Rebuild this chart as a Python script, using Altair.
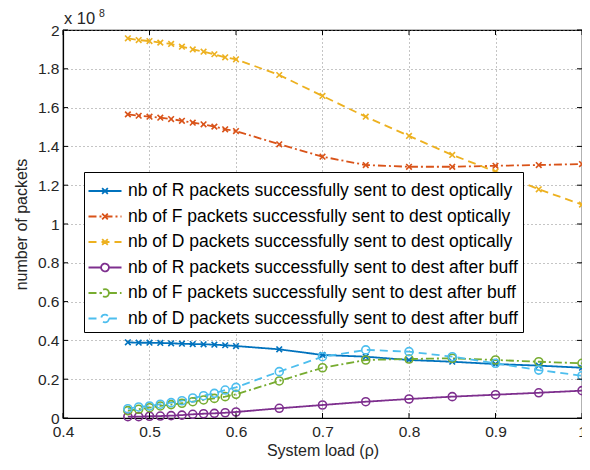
import altair as alt
import pandas as pd

# System load values (x axis)
load = [0.475, 0.4875, 0.5, 0.5125, 0.525, 0.5375, 0.55, 0.5625, 0.575, 0.5875,
        0.6, 0.65, 0.7, 0.75, 0.8, 0.85, 0.9, 0.95, 1.0]

# Number of packets, in units of 1e8
r_opt = [0.390, 0.388, 0.388, 0.387, 0.385, 0.383, 0.381, 0.380, 0.378, 0.375,
         0.371, 0.354, 0.325, 0.316, 0.299, 0.290, 0.278, 0.270, 0.259]
f_opt = [1.565, 1.558, 1.553, 1.548, 1.541, 1.532, 1.522, 1.514, 1.502, 1.488,
         1.479, 1.411, 1.347, 1.304, 1.295, 1.295, 1.300, 1.304, 1.309]
d_opt = [1.957, 1.948, 1.943, 1.935, 1.928, 1.914, 1.900, 1.888, 1.875, 1.859,
         1.849, 1.768, 1.660, 1.553, 1.454, 1.356, 1.270, 1.179, 1.100]
r_buf = [0.007, 0.007, 0.009, 0.010, 0.012, 0.015, 0.019, 0.022, 0.024, 0.027,
         0.031, 0.050, 0.067, 0.084, 0.098, 0.110, 0.120, 0.130, 0.141]
f_buf = [0.038, 0.045, 0.053, 0.062, 0.069, 0.076, 0.084, 0.093, 0.101, 0.110,
         0.122, 0.191, 0.259, 0.299, 0.304, 0.308, 0.299, 0.290, 0.282]
d_buf = [0.048, 0.057, 0.062, 0.071, 0.079, 0.089, 0.103, 0.115, 0.127, 0.144,
         0.158, 0.239, 0.316, 0.351, 0.342, 0.316, 0.282, 0.247, 0.218]

names = [
    "nb of R packets successfully sent to dest optically",
    "nb of F packets successfully sent to dest optically",
    "nb of D packets successfully sent to dest optically",
    "nb of R packets successfully sent to dest after buff",
    "nb of F packets successfully sent to dest after buff",
    "nb of D packets successfully sent to dest after buff",
]
series_values = [r_opt, f_opt, d_opt, r_buf, f_buf, d_buf]
markers = ["x", "x", "x", "o", "o", "o"]
colors = ["#0072BD", "#D95319", "#EDB120", "#7E2F8E", "#77AC30", "#4DBEEE"]
dashes = [[1, 0], [8, 3, 2, 3], [8, 5], [1, 0], [8, 3, 2, 3], [8, 5]]

x_ticks = [0.4, 0.5, 0.6, 0.7, 0.8, 0.9, 1.0]
y_ticks = [0, 0.2, 0.4, 0.6, 0.8, 1.0, 1.2, 1.4, 1.6, 1.8, 2.0]
exp_base = ["x 10"]
exp_power = ["8"]

W, H = 519, 388
TICK = 5

rows = []
for name, vals, mk in zip(names, series_values, markers):
    for xv, yv in zip(load, vals):
        rows.append({"load": xv, "value": yv, "series": name, "marker": mk})
df = pd.DataFrame(rows)
xt_df = pd.DataFrame({"load": x_ticks})
yt_df = pd.DataFrame({"value": y_ticks})

FONT = "Liberation Sans"
TXT = "#262626"

x_path = "M-0.7,-0.7L0.7,0.7M-0.7,0.7L0.7,-0.7"
leg_x = "M-1.27,0L1.27,0M-0.22,-0.22L0.22,0.22M-0.22,0.22L0.22,-0.22"
leg_o = "M-1.27,0L-0.3,0M0.3,0L1.27,0M0.3,0A0.3,0.3,0,1,1,-0.3,0A0.3,0.3,0,1,1,0.3,0"
leg_paths = [leg_x if m == "x" else leg_o for m in markers]

legend = alt.Legend(
    orient="none", legendX=21, legendY=142, title=None,
    fillColor="white", strokeColor="black", padding=5, symbolOffset=2,
    labelFont=FONT, labelFontSize=17.5, labelColor="black", labelLimit=600,
    symbolSize=676, symbolStrokeWidth=1.8, labelOffset=9, rowPadding=2.5,
)

color = alt.Color("series:N", scale=alt.Scale(domain=names, range=colors), legend=legend, title=None)
dash = alt.StrokeDash("series:N", scale=alt.Scale(domain=names, range=dashes), legend=legend, title=None)
shape = alt.Shape("series:N", scale=alt.Scale(domain=names, range=leg_paths), legend=legend, title=None)

x_enc = alt.X("load:Q", scale=alt.Scale(domain=[0.4, 1.0], nice=False, zero=False),
              axis=alt.Axis(values=x_ticks, format=".1~f", title="System load (ρ)",
                            labelPadding=6, titlePadding=3, labelFlush=False, labelOverlap=False))
y_enc = alt.Y("value:Q", scale=alt.Scale(domain=[0, 2], nice=False),
              axis=alt.Axis(values=y_ticks, format=".1~f", title="number of packets",
                            labelPadding=4, titlePadding=8, labelFlush=False, labelOverlap=False))

base = alt.Chart(df).encode(x=x_enc, y=y_enc)

lines = base.mark_line(strokeWidth=1.8).encode(color=color, strokeDash=dash, order="load:Q")
pts_x = base.transform_filter(alt.FieldOneOfPredicate(field="marker", oneOf=["x"])).mark_point(
    shape=x_path, size=64, filled=False, strokeWidth=1.6, opacity=1).encode(color=color)
pts_o = base.transform_filter(alt.FieldOneOfPredicate(field="marker", oneOf=["o"])).mark_point(
    shape="circle", size=64, filled=False, strokeWidth=1.6, opacity=1).encode(color=color)
leg_layer = base.transform_filter("false").mark_point(
    filled=False, size=676, strokeWidth=1.8, opacity=1).encode(color=color, strokeDash=dash, shape=shape)

# inward axis ticks (MATLAB style) on all four sides
tick_style = dict(color="black", strokeWidth=1)
xt_bot = alt.Chart(xt_df).mark_rule(**tick_style).encode(x=x_enc, y=alt.value(H), y2=alt.value(H - TICK))
xt_top = alt.Chart(xt_df).mark_rule(**tick_style).encode(x=x_enc, y=alt.value(0), y2=alt.value(TICK))
yt_left = alt.Chart(yt_df).mark_rule(**tick_style).encode(y=y_enc, x=alt.value(0), x2=alt.value(TICK))
yt_right = alt.Chart(yt_df).mark_rule(**tick_style).encode(y=y_enc, x=alt.value(W), x2=alt.value(W - TICK))

exp_txt = alt.Chart(pd.DataFrame({"t": exp_base})).mark_text(
    font=FONT, fontSize=16.5, color=TXT, align="left", baseline="alphabetic"
).encode(text="t:N", x=alt.value(1), y=alt.value(-6))
pow_txt = alt.Chart(pd.DataFrame({"t": exp_power})).mark_text(
    font=FONT, fontSize=10.5, color=TXT, align="left", baseline="alphabetic"
).encode(text="t:N", x=alt.value(36), y=alt.value(-13))

chart = alt.layer(
    lines, pts_x, pts_o, leg_layer,
    xt_bot, xt_top, yt_left, yt_right,
    exp_txt, pow_txt
).properties(
    width=W, height=H,
    autosize=alt.AutoSizeParams(type="none"),
    padding={"left": 55, "top": 22, "right": 0, "bottom": 44},
).configure_view(
    stroke="black", strokeWidth=1.2
).configure_axis(
    labelFont=FONT, labelFontSize=15.5, labelColor=TXT,
    titleFont=FONT, titleFontSize=16, titleFontWeight="normal", titleColor=TXT,
    grid=True, gridDash=[1, 3], gridColor="#8a8a8a", gridWidth=1,
    domain=True, domainColor="black", domainWidth=1.2,
    ticks=False,
)

chart.save("out.html", embed_options={"renderer": "svg", "actions": False})
